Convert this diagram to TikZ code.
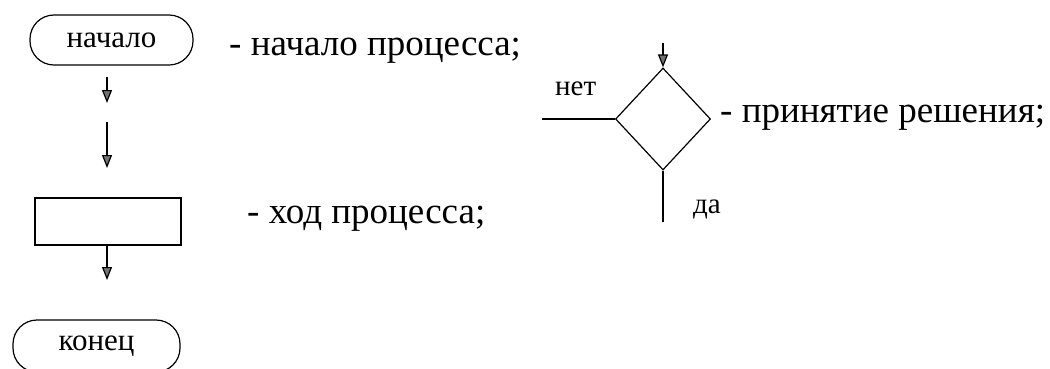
\documentclass[tikz,border=0pt]{standalone}
\usepackage{fontspec}
\setmainfont{Liberation Serif}
\usetikzlibrary{shapes.geometric,arrows.meta}
\tikzset{
  term/.style={draw, line width=1.2pt, rounded corners=24pt, inner sep=0pt,
    font=\fontsize{31}{34}\selectfont},
  procbox/.style={draw, line width=1.2pt, inner sep=0pt},
  decide/.style={draw, line width=1.2pt, diamond, inner sep=0pt, aspect=0.93},
  flow/.style={line width=1.2pt, -{Triangle[width=10pt,length=13pt,fill=black!55]}},
  plain/.style={line width=1.2pt},
  lbl/.style={anchor=base west, inner sep=0pt, font=\fontsize{37}{42}\selectfont},
  small/.style={anchor=base west, inner sep=0pt, font=\fontsize{29}{32}\selectfont},
}
\begin{document}
\begin{tikzpicture}[x=1pt,y=-1pt]
\useasboundingbox (0,0) rectangle (1050,368);
\clip (0,0) rectangle (1050,368);
% left column
\node[term, minimum width=163pt, minimum height=50pt] (start) at (111.5,40) {начало};
\coordinate (a1s) at (107,77);
\coordinate (a1e) at (107,103);
\draw[flow] (a1s) -- (a1e);
\coordinate (a2s) at (107,122);
\coordinate (a2e) at (107,168);
\draw[flow] (a2s) -- (a2e);
\node[procbox, minimum width=146pt, minimum height=47pt] (proc) at (108,221.5) {};
\coordinate (a3e) at (107,280);
\draw[flow] (proc.south -| a3e) -- (a3e);
\node[term, minimum width=167pt, minimum height=52pt] (end) at (96.5,346) {конец};
% labels
\node[lbl] (l1) at (229,55) {- начало процесса;};
\node[lbl] (l2) at (247,223) {- ход процесса;};
% decision
\node[decide, minimum width=95pt, minimum height=102pt] (dec) at (663,119) {};
\coordinate (din) at (663,43);
\coordinate (dno) at (542,119);
\coordinate (dyes) at (663,222);
\draw[flow] (din) -- (dec.north);
\draw[plain] (dno) -- (dec.west);
\draw[plain] (dec.south) -- (dyes);
\node[small] (no) at (555,95) {нет};
\node[small] (yes) at (693,213) {да};
\node[lbl] (l3) at (720,122) {- принятие решения;};
\end{tikzpicture}
\end{document}
